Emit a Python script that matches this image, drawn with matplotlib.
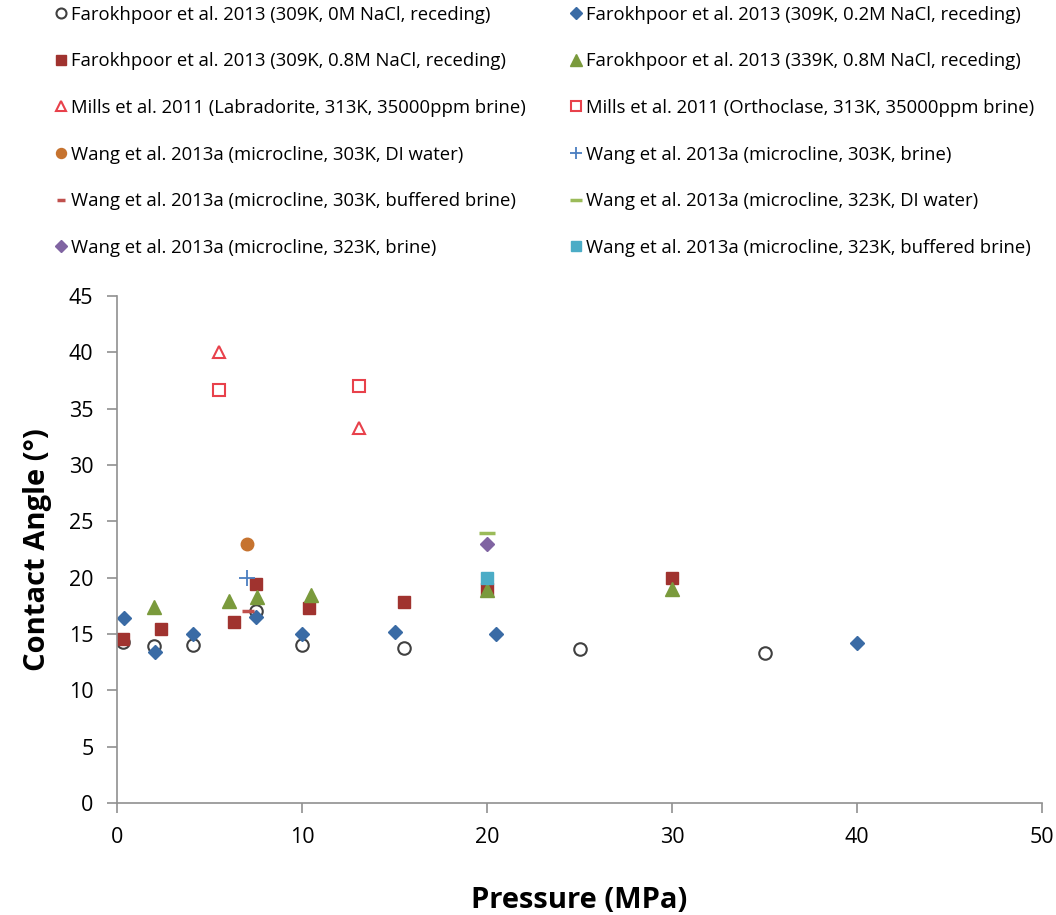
import matplotlib.pyplot as plt

plt.rcParams['font.family'] = ['Open Sans', 'DejaVu Sans']

# data
far_0m_x = [0.3, 2.0, 4.1, 7.5, 10.0, 15.5, 25.0, 35.0]
far_0m_y = [14.3, 13.9, 14.0, 17.0, 14.0, 13.8, 13.7, 13.3]
far_02m_x = [0.4, 2.05, 4.1, 7.5, 10.0, 15.0, 20.5, 40.0]
far_02m_y = [16.4, 13.4, 15.0, 16.5, 15.0, 15.2, 15.0, 14.2]
far_08m_x = [0.35, 2.4, 6.3, 7.5, 10.4, 15.5, 20.0, 30.0]
far_08m_y = [14.6, 15.4, 16.1, 19.4, 17.3, 17.8, 19.0, 20.0]
far_339_x = [2.0, 6.05, 7.55, 10.5, 20.0, 30.0]
far_339_y = [17.4, 17.9, 18.3, 18.5, 18.9, 19.0]
mills_lab_x = [5.5, 13.1]
mills_lab_y = [40.0, 33.3]
mills_orth_x = [5.5, 13.1]
mills_orth_y = [36.7, 37.0]
wang_303_di_x = [7.0]
wang_303_di_y = [23.0]
wang_303_br_x = [7.0]
wang_303_br_y = [20.0]
wang_303_buf_x = [7.1]
wang_303_buf_y = [17.0]
wang_323_di_x = [20.0]
wang_323_di_y = [24.0]
wang_323_br_x = [20.0]
wang_323_br_y = [23.0]
wang_323_buf_x = [20.0]
wang_323_buf_y = [20.0]

fig = plt.figure(figsize=(10.56, 9.15), dpi=100)
ax = fig.add_axes([117 / 1056, 1 - 803 / 915, 925 / 1056, 507 / 915])

h = []
h.append(ax.plot(far_0m_x, far_0m_y, 'o', ms=9, mfc='white', mec='#404040', mew=1.5, ls='none',
                 label='Farokhpoor et al. 2013 (309K, 0M NaCl, receding)')[0])
h.append(ax.plot(far_02m_x, far_02m_y, 'D', ms=7.5, color='#3A6BA5', ls='none',
                 label='Farokhpoor et al. 2013 (309K, 0.2M NaCl, receding)')[0])
h.append(ax.plot(far_08m_x, far_08m_y, 's', ms=9, color='#A0332F', ls='none',
                 label='Farokhpoor et al. 2013 (309K, 0.8M NaCl, receding)')[0])
h.append(ax.plot(far_339_x, far_339_y, '^', ms=10, color='#7A9A3C', ls='none',
                 label='Farokhpoor et al. 2013 (339K, 0.8M NaCl, receding)')[0])
h.append(ax.plot(mills_lab_x, mills_lab_y, '^', ms=9, mfc='white', mec='#E8414B', mew=1.5, ls='none',
                 label='Mills et al. 2011 (Labradorite, 313K, 35000ppm brine)')[0])
h.append(ax.plot(mills_orth_x, mills_orth_y, 's', ms=9, mfc='white', mec='#E8414B', mew=1.5, ls='none',
                 label='Mills et al. 2011 (Orthoclase, 313K, 35000ppm brine)')[0])
h.append(ax.plot(wang_303_di_x, wang_303_di_y, 'o', ms=9, color='#C6732F', ls='none',
                 label='Wang et al. 2013a (microcline, 303K, DI water)')[0])
h.append(ax.plot(wang_303_br_x, wang_303_br_y, '+', ms=11, mew=1.3, color='#4A7EC0', ls='none',
                 label='Wang et al. 2013a (microcline, 303K, brine)')[0])
h.append(ax.plot(wang_303_buf_x, wang_303_buf_y, '_', ms=8, mew=2.5, color='#C0504D', ls='none',
                 label='Wang et al. 2013a (microcline, 303K, buffered brine)')[0])
h.append(ax.plot(wang_323_di_x, wang_323_di_y, '_', ms=11, mew=2.5, color='#9BBB59', ls='none',
                 label='Wang et al. 2013a (microcline, 323K, DI water)')[0])
h.append(ax.plot(wang_323_br_x, wang_323_br_y, 'D', ms=7.5, color='#8064A2', ls='none',
                 label='Wang et al. 2013a (microcline, 323K, brine)')[0])
h.append(ax.plot(wang_323_buf_x, wang_323_buf_y, 's', ms=9, color='#4BACC6', ls='none',
                 label='Wang et al. 2013a (microcline, 323K, buffered brine)')[0])

ax.set_xlim(0, 50)
ax.set_ylim(0, 45)
ax.set_xticks(range(0, 51, 10))
ax.set_yticks(range(0, 46, 5))
for s in ['top', 'right']:
    ax.spines[s].set_visible(False)
for s in ['left', 'bottom']:
    ax.spines[s].set_color('#909090')
    ax.spines[s].set_linewidth(1.2)
ax.tick_params(colors='#909090', length=7, width=1.2, labelsize=15.5, labelcolor='black', pad=10)
ax.set_xlabel('Pressure (MPa)', fontsize=21, fontweight='bold', labelpad=28)
ax.set_ylabel('Contact Angle (°)', fontsize=21, fontweight='bold', labelpad=12)

# legend: two columns, row-wise order
order = [0, 2, 4, 6, 8, 10, 1, 3, 5, 7, 9, 11]
fig.legend([h[i] for i in order], [h[i].get_label() for i in order], ncol=2,
           loc='upper left', bbox_to_anchor=(0.037, 1.012), frameon=False, fontsize=13.3,
           handlelength=0.55, handletextpad=0.3, columnspacing=2.4, labelspacing=1.55,
           markerscale=0.8)

fig.savefig('out.png', dpi=100)
